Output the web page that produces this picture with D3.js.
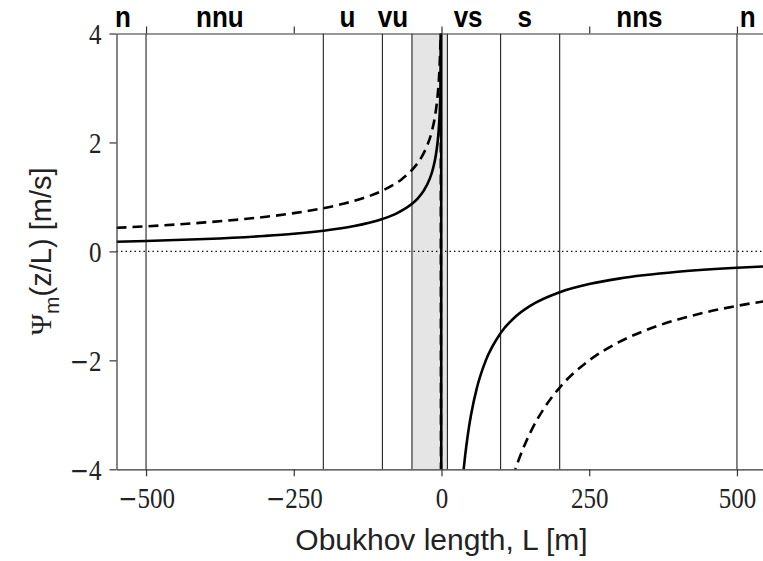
<!DOCTYPE html>
<html lang="en">
<head>
<meta charset="utf-8">
<title>Psi_m vs Obukhov length</title>
<style type="text/css">
  body { margin: 0; background: #fff; }
  .tick text { font-family: "Liberation Serif", "DejaVu Serif", serif; fill: #222; }
  .zone { font-family: "Liberation Sans", Arial, sans-serif; font-weight: bold; fill: #000; }
  .label { font-family: "Liberation Sans", Arial, sans-serif; fill: #222; }
</style>
</head>
<body>
<script src="https://cdn.jsdelivr.net/npm/d3@7"></script>
<script>

// stability classes: boundary lines, shaded band, labels
var boundaryL = [-500, -200, -100, -50, 10, 100, 200, 500];
var shadeL = [-50, 10];
var zoneNames = ["n", "nnu", "u", "vu", "vs", "s", "nns", "n"];
var zoneAt = [-539, -375, -159, -82, 45, 141, 335, 518];

var xTicks = [-500, -250, 0, 250, 500];
var yTicks = [-4, -2, 0, 2, 4];

// solid curve (lower height)
var solidL = [-550, -500, -400, -300, -250, -200, -150, -100, -75, -50, -40, -30, -20, -15,
              -10, -7, -5, -3, -2, -1.5, -1, -0.7, -0.5, -0.45,
              1, 10, 30, 37.5, 40, 45, 50, 60, 75, 100, 125, 150, 200, 250, 300, 400, 500, 550];
var solidPsi = [0.176, 0.190, 0.227, 0.284, 0.324, 0.380, 0.460, 0.594, 0.702, 0.873, 0.975, 1.116, 1.331, 1.495,
                1.739, 1.967, 2.191, 2.549, 2.847, 3.064, 3.378, 3.662, 3.935, 4.022,
                -150, -15, -5, -4, -3.75, -3.333, -3, -2.5, -2, -1.5, -1.2, -1, -0.75, -0.6, -0.5, -0.375, -0.3, -0.273];

// dashed curve (greater height)
var dashL = [-550, -500, -400, -333.3, -250, -166.7, -133.3, -100, -66.67, -50, -33.33, -23.33, -16.67,
             -10, -6.667, -5, -3.333, -2.333, -1.667, -1.5,
             3, 50, 100, 125, 130, 150, 175, 200, 250, 300, 350, 400, 450, 500, 550];
var dashPsi = [0.433, 0.460, 0.532, 0.594, 0.702, 0.873, 0.975, 1.116, 1.331, 1.495, 1.739, 1.967, 2.191,
               2.549, 2.847, 3.064, 3.378, 3.662, 3.935, 4.022,
               -166.7, -10, -5, -4, -3.846, -3.333, -2.857, -2.5, -2, -1.667, -1.429, -1.25, -1.111, -1, -0.909];

var W = 763, H = 561;
var pl = 116.5, pr = 766.5, pt = 33.5, pb = 469.3;

var x = d3.scaleLinear().domain([-550, 550]).range([pl, pr]);
var y = d3.scaleLinear().domain([-4, 4]).range([pb, pt]);

var svg = d3.select("body").append("svg")
    .attr("width", W)
    .attr("height", H);

svg.append("defs").append("clipPath").attr("id", "plot")
  .append("rect")
    .attr("x", pl).attr("y", pt)
    .attr("width", pr - pl).attr("height", pb - pt);

var plot = svg.append("g").attr("clip-path", "url(#plot)");

// shaded band
plot.append("rect")
    .attr("x", x(shadeL[0]))
    .attr("y", pt)
    .attr("width", x(shadeL[1]) - x(shadeL[0]))
    .attr("height", pb - pt)
    .attr("fill", "#e5e5e5");

// class boundaries
plot.selectAll(".bound")
    .data(boundaryL)
  .enter().append("line")
    .attr("class", "bound")
    .attr("x1", function(d) { return x(d); })
    .attr("x2", function(d) { return x(d); })
    .attr("y1", pt).attr("y2", pb)
    .attr("stroke", "#222")
    .attr("stroke-width", 1.1);

// zero line
plot.append("line")
    .attr("x1", pl).attr("x2", pr)
    .attr("y1", y(0)).attr("y2", y(0))
    .attr("stroke", "#000")
    .attr("stroke-width", 1.2)
    .attr("stroke-dasharray", "1.4,3.1");

var line = d3.line()
    .x(function(d) { return x(d[0]); })
    .y(function(d) { return y(d[1]); })
    .curve(d3.curveMonotoneX);

plot.append("path")
    .datum(d3.zip(solidL, solidPsi))
    .attr("d", line)
    .attr("fill", "none")
    .attr("stroke", "#000")
    .attr("stroke-width", 2.6);

plot.append("path")
    .datum(d3.zip(dashL, dashPsi))
    .attr("d", line)
    .attr("fill", "none")
    .attr("stroke", "#000")
    .attr("stroke-width", 2.6)
    .attr("stroke-dasharray", "10,6");

// axes
var sy = 1.2;

// wide TeX-like minus sign for negative tick labels
function texMinus(sel) {
  sel.each(function(d) {
    var t = d3.select(this);
    t.text("");
    if (d < 0) {
      t.append("tspan").attr("font-family", "DejaVu Serif, serif").attr("font-size", 23).text("\u2212");
      t.append("tspan").text(Math.abs(d));
    } else {
      t.text(d);
    }
  });
}

var xAxis = svg.append("g")
    .attr("transform", "translate(0," + pb + ")")
    .call(d3.axisBottom(x).tickValues(xTicks).tickSize(7).tickSizeOuter(0));
xAxis.selectAll("text")
    .attr("font-size", 25)
    .attr("dy", 0)
    .attr("y", 38.7 / sy)
    .attr("transform", "scale(1," + sy + ")")
    .call(texMinus);

svg.append("g")
    .attr("transform", "translate(0," + pt + ")")
    .call(d3.axisTop(x).tickValues(xTicks).tickSize(7).tickSizeOuter(0).tickFormat(""));

var yAxis = svg.append("g")
    .attr("transform", "translate(" + pl + ",0)")
    .call(d3.axisLeft(y).tickValues(yTicks).tickSize(7).tickSizeOuter(0));
yAxis.selectAll("text")
    .attr("font-size", 25)
    .attr("x", -15)
    .attr("dy", "0.33em")
    .attr("transform", "scale(1," + sy + ")")
    .call(texMinus);

svg.selectAll(".domain, .tick line")
    .attr("stroke", "#333")
    .attr("stroke-width", 1.2);

// zone labels along the top
svg.selectAll(".zone")
    .data(zoneNames)
  .enter().append("text")
    .attr("class", "zone")
    .attr("text-anchor", "middle")
    .attr("font-size", 26)
    .attr("transform", function(d, i) { return "translate(" + x(zoneAt[i]) + ",26.7) scale(1,1.1)"; })
    .text(function(d) { return d; });

// axis labels
svg.append("text")
    .attr("class", "label")
    .attr("text-anchor", "middle")
    .attr("font-size", 30)
    .attr("x", x(0))
    .attr("y", 550)
    .text("Obukhov length, L [m]");

var yl = svg.append("text")
    .attr("class", "label")
    .attr("text-anchor", "middle")
    .attr("font-size", 29)
    .attr("transform", "translate(51," + y(0) + ") rotate(-90)");
yl.append("tspan").attr("font-family", "Liberation Serif, serif").text("\u03A8");
yl.append("tspan").attr("font-size", 21).attr("dy", 8).text("m");
yl.append("tspan").attr("dy", -8).text("(z/L) [m/s]");

</script>
</body>
</html>
